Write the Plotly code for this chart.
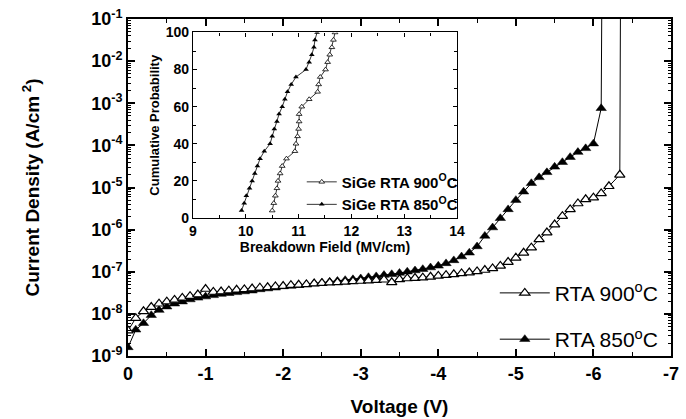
import plotly.graph_objects as go

# ---------------- main plot data ----------------
v_850 = [0.0, -0.1, -0.2, -0.3, -0.4, -0.5, -0.6, -0.7, -0.8, -0.9,
         -1.0, -1.1, -1.2, -1.3, -1.4, -1.5, -1.6, -1.7, -1.8, -1.9,
         -2.0, -2.1, -2.2, -2.3, -2.4, -2.5, -2.6, -2.7, -2.8, -2.9,
         -3.0, -3.1, -3.2, -3.3, -3.4, -3.5, -3.6, -3.7, -3.8, -3.9,
         -4.0, -4.1, -4.2, -4.3, -4.4, -4.5, -4.6, -4.7, -4.8, -4.9,
         -5.0, -5.1, -5.2, -5.3, -5.4, -5.5, -5.6, -5.7, -5.8, -5.9,
         -6.0, -6.1, -6.11]
j_850 = [1.6e-9, 4.2e-9, 6.0e-9, 9.3e-9, 1.23e-8, 1.48e-8, 1.74e-8, 1.95e-8, 2.19e-8, 2.40e-8,
         2.57e-8, 2.75e-8, 2.95e-8, 3.09e-8, 3.24e-8, 3.39e-8, 3.55e-8, 3.80e-8, 3.98e-8, 4.17e-8,
         4.47e-8, 4.57e-8, 4.79e-8, 5.01e-8, 5.25e-8, 5.50e-8, 5.75e-8, 6.03e-8, 6.31e-8, 6.61e-8,
         6.92e-8, 7.41e-8, 7.76e-8, 8.32e-8, 8.71e-8, 9.33e-8, 1.00e-7, 1.07e-7, 1.15e-7, 1.26e-7,
         1.38e-7, 1.58e-7, 1.86e-7, 2.29e-7, 2.82e-7, 3.98e-7, 7.08e-7, 1.12e-6, 1.86e-6, 3.02e-6,
         5.01e-6, 7.94e-6, 1.26e-5, 1.74e-5, 2.29e-5, 3.09e-5, 3.98e-5, 5.25e-5, 6.92e-5, 8.51e-5,
         1.10e-4, 7.6e-4, 1.0]

v_900 = [0.0, -0.1, -0.2, -0.3, -0.4, -0.5, -0.6, -0.7, -0.8, -0.9,
         -1.0, -1.1, -1.2, -1.3, -1.4, -1.5, -1.6, -1.7, -1.8, -1.9,
         -2.0, -2.1, -2.2, -2.3, -2.4, -2.5, -2.6, -2.7, -2.8, -2.9,
         -3.0, -3.1, -3.2, -3.3, -3.4, -3.5, -3.6, -3.7, -3.8, -3.9,
         -4.0, -4.1, -4.2, -4.3, -4.4, -4.5, -4.6, -4.7, -4.8, -4.9,
         -5.0, -5.1, -5.2, -5.3, -5.4, -5.5, -5.6, -5.7, -5.8, -5.9,
         -6.0, -6.1, -6.2, -6.34, -6.35]
j_900 = [4.0e-9, 7.9e-9, 1.15e-8, 1.45e-8, 1.74e-8, 1.95e-8, 2.14e-8, 2.40e-8, 2.63e-8, 2.88e-8,
         3.89e-8, 3.31e-8, 3.39e-8, 3.55e-8, 3.72e-8, 3.80e-8, 3.98e-8, 4.17e-8, 4.27e-8, 4.47e-8,
         4.57e-8, 4.79e-8, 4.90e-8, 5.01e-8, 5.25e-8, 5.37e-8, 5.50e-8, 5.62e-8, 5.75e-8, 5.89e-8,
         6.03e-8, 6.17e-8, 6.31e-8, 6.46e-8, 5.62e-8, 6.61e-8, 6.92e-8, 7.08e-8, 7.24e-8, 7.59e-8,
         7.94e-8, 8.32e-8, 8.71e-8, 9.12e-8, 9.55e-8, 1.02e-7, 1.10e-7, 1.20e-7, 1.38e-7, 1.70e-7,
         2.14e-7, 2.82e-7, 3.72e-7, 5.89e-7, 8.51e-7, 1.32e-6, 2.09e-6, 3.02e-6, 4.17e-6, 5.25e-6,
         5.75e-6, 7.24e-6, 1.07e-5, 2.00e-5, 1.0]

x_ticks = [0, -1, -2, -3, -4, -5, -6, -7]
x_ticklabels = ["0", "-1", "-2", "-3", "-4", "-5", "-6", "-7"]
y_ticks = [1e-9, 1e-8, 1e-7, 1e-6, 1e-5, 1e-4, 1e-3, 1e-2, 1e-1]
y_ticklabels = ["10<sup>-9</sup>", "10<sup>-8</sup>", "10<sup>-7</sup>", "10<sup>-6</sup>",
                "10<sup>-5</sup>", "10<sup>-4</sup>", "10<sup>-3</sup>", "10<sup>-2</sup>",
                "10<sup>-1</sup>"]

# ---------------- inset data ----------------
prob = [4, 8, 12, 16, 20, 24, 28, 32, 36, 40, 44, 48, 52, 56, 60, 64, 68, 72, 76, 80,
        84, 88, 92, 96, 100]
field_850 = [9.92, 9.97, 10.01, 10.07, 10.12, 10.17, 10.22, 10.27, 10.35, 10.46, 10.50, 10.54,
             10.59, 10.63, 10.69, 10.74, 10.79, 10.86, 10.95, 11.14, 11.20, 11.25, 11.29, 11.31,
             11.35]
field_900 = [10.50, 10.53, 10.56, 10.59, 10.61, 10.65, 10.69, 10.77, 10.93, 10.95, 10.98, 11.00,
             11.01, 11.01, 11.06, 11.20, 11.36, 11.38, 11.41, 11.51, 11.55, 11.59, 11.63, 11.66,
             11.69]

FONT = "Liberation Sans"

fig = go.Figure()

fig.add_trace(go.Scatter(
    x=v_850, y=j_850, name="RTA 850<sup>o</sup>C", mode="lines+markers",
    line=dict(color="black", width=1),
    marker=dict(symbol="triangle-up", size=9, color="black", line=dict(color="black", width=0.5)),
    legend="legend", legendgroup="a850", legendrank=2, xaxis="x", yaxis="y"))
fig.add_trace(go.Scatter(
    x=v_900, y=j_900, name="RTA 900<sup>o</sup>C", mode="lines+markers",
    line=dict(color="black", width=1),
    marker=dict(symbol="triangle-up", size=9, color="white", line=dict(color="black", width=1.2)),
    legend="legend", legendgroup="a900", legendrank=1, xaxis="x", yaxis="y"))

fig.add_trace(go.Scatter(
    x=field_900, y=prob, name="<b>SiGe RTA 900<sup>O</sup>C</b>", mode="lines+markers",
    line=dict(color="black", width=0.8),
    marker=dict(symbol="triangle-up", size=5, color="white", line=dict(color="black", width=0.8)),
    legend="legend2", legendrank=1, xaxis="x2", yaxis="y2"))
fig.add_trace(go.Scatter(
    x=field_850, y=prob, name="<b>SiGe RTA 850<sup>O</sup>C</b>", mode="lines+markers",
    line=dict(color="black", width=0.8),
    marker=dict(symbol="triangle-up", size=5, color="black"),
    legend="legend2", legendrank=2, xaxis="x2", yaxis="y2"))

bold_tick = dict(family=FONT, size=18, color="black", weight="bold")

fig.update_layout(
    width=686, height=419,
    margin=dict(l=128, r=15, t=19, b=63, autoexpand=False),
    paper_bgcolor="white", plot_bgcolor="white",
    font=dict(family=FONT, color="black"),
    xaxis=dict(
        domain=[0, 1], range=[0, -7], automargin=False,
        tickmode="array", tickvals=x_ticks, ticktext=x_ticklabels,
        ticks="inside", ticklen=7, tickwidth=1.5, tickcolor="black",
        minor=dict(dtick=0.5, ticks="inside", ticklen=4, tickwidth=1, tickcolor="black", showgrid=False),
        showline=True, linecolor="black", linewidth=2, mirror="allticks",
        showgrid=False, zeroline=False,
        tickfont=bold_tick,
        title=dict(text="Voltage (V)", font=dict(family=FONT, size=19, weight="bold"), standoff=17),
    ),
    yaxis=dict(
        domain=[0, 1], type="log", range=[-9, -1], automargin=False,
        tickmode="array", tickvals=y_ticks, ticktext=y_ticklabels,
        ticks="inside", ticklen=7, tickwidth=1.5, tickcolor="black",
        minor=dict(dtick="D1", ticks="inside", ticklen=3, tickwidth=1, tickcolor="black", showgrid=False),
        showline=True, linecolor="black", linewidth=2, mirror="allticks",
        showgrid=False, zeroline=False,
        tickfont=bold_tick,
        title=dict(text="Current Density (A/cm<sup> 2</sup>)",
                   font=dict(family=FONT, size=19, weight="bold"), standoff=47),
    ),
    xaxis2=dict(
        domain=[0.1197, 0.6059], anchor="y2", range=[9, 14], automargin=False,
        tickmode="array", tickvals=[9, 10, 11, 12, 13, 14],
        ticks="inside", ticklen=4, tickwidth=1, tickcolor="black",
        minor=dict(dtick=0.5, ticks="inside", ticklen=3, tickwidth=1, tickcolor="black", showgrid=False),
        showline=True, linecolor="black", linewidth=1.2, mirror="allticks",
        showgrid=False, zeroline=False,
        tickfont=dict(family=FONT, size=14, weight="bold"),
        title=dict(text="Breakdown Field (MV/cm)", font=dict(family=FONT, size=14, weight="bold"), standoff=2),
    ),
    yaxis2=dict(
        domain=[0.4095, 0.960], anchor="x2", range=[0, 100], automargin=False,
        tickmode="array", tickvals=[0, 20, 40, 60, 80, 100],
        ticks="inside", ticklen=4, tickwidth=1, tickcolor="black",
        minor=dict(dtick=10, ticks="inside", ticklen=3, tickwidth=1, tickcolor="black", showgrid=False),
        showline=True, linecolor="black", linewidth=1.2, mirror="allticks",
        showgrid=False, zeroline=False,
        tickfont=dict(family=FONT, size=14, weight="bold"),
        title=dict(text="Cumulative Probability", font=dict(family=FONT, size=13, weight="bold"), standoff=3),
    ),
    legend=dict(
        x=0.6755, y=0.118, xanchor="left", yanchor="middle",
        bgcolor="rgba(0,0,0,0)", borderwidth=0,
        font=dict(family=FONT, size=21, color="black"),
        tracegroupgap=16, itemwidth=50, traceorder="grouped",
    ),
    legend2=dict(
        x=0.320, y=0.565, xanchor="left", yanchor="top",
        bgcolor="rgba(0,0,0,0)", borderwidth=0,
        font=dict(family=FONT, size=15, color="black"),
        itemwidth=30, tracegroupgap=0,
    ),
    showlegend=True,
)

fig.write_html("out.html", config={"displayModeBar": False},
               post_script="document.body.style.margin='0';document.body.style.overflow='hidden';")
